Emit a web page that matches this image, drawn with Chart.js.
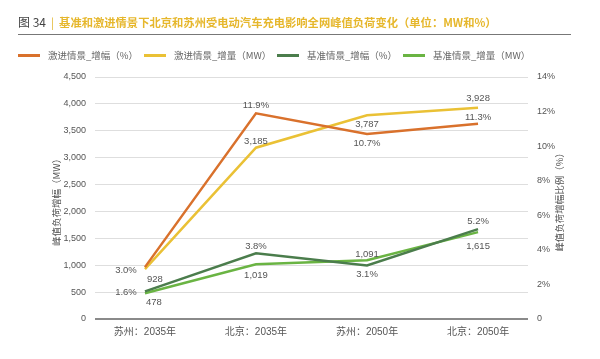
<!DOCTYPE html>
<html>
<head>
<meta charset="utf-8">
<script src="https://cdn.jsdelivr.net/npm/chart.js@4/dist/chart.umd.min.js"></script>
<style>
  html, body { margin:0; padding:0; background:#fff; }
  #wrap { position:relative; width:600px; height:359px; overflow:hidden; font-family:"Noto Sans CJK SC", "Noto Sans", sans-serif; }
  #chart { position:absolute; left:0; top:0; }
  #title { position:absolute; left:18px; top:13px; white-space:nowrap; font-size:11.3px; line-height:18px; }
  #title .num { color:#444; font-weight:normal; font-size:12px; }
  #title .bar { color:#e2b52a; margin:0 5px; }
  #title .txt { color:#e6b72c; font-weight:bold; }
  #rule { position:absolute; left:18px; top:34px; width:553px; height:0; border-top:1.5px solid #777; }
  .leg { position:absolute; top:48px; height:14px; white-space:nowrap; font-size:9.5px; color:#666; line-height:14px; }
  .leg .sw { position:absolute; left:0; top:6px; width:22px; height:3px; }
  .leg .lt { position:absolute; left:30px; top:0; }
</style>
</head>
<body>
<div id="wrap">
  <canvas id="chart" width="600" height="359"></canvas>
  <div id="title"><span class="num">图 34</span><span class="bar">|</span><span class="txt">基准和激进情景下北京和苏州受电动汽车充电影响全网峰值负荷变化（单位：MW和%）</span></div>
  <div id="rule"></div>
  <div id="legend"></div>
</div>
<script>
// ---- data ----
const categories = ["苏州：2035年", "北京：2035年", "苏州：2050年", "北京：2050年"];
const seriesNames = ["激进情景_增幅（%）", "激进情景_增量（MW）", "基准情景_增幅（%）", "基准情景_增量（MW）"];
const aggressivePct = [3.0, 11.9, 10.7, 11.3];
const aggressiveMW = [928, 3185, 3787, 3928];
const baselinePct = [1.6, 3.8, 3.1, 5.2];
const baselineMW = [478, 1019, 1091, 1615];
const leftTicks = [0, 500, 1000, 1500, 2000, 2500, 3000, 3500, 4000, 4500];
const rightTicks = [0, 2, 4, 6, 8, 10, 12, 14];

// ---- styles ----
const colors = ["#d9712c", "#eac135", "#4b7d4c", "#6ab443"];
const legendX = [18, 144, 277, 403];
// label offsets (dx, dy) relative to each point
const labelOffsets = [
  [[-19, 3], [0, -8], [0, 9], [0, -6]],
  [[10, 10], [0, -6], [0, 9], [0, -9]],
  [[-19, 1], [0, -7], [0, 9], [0, -8]],
  [[9, 9], [0, 11], [0, -6], [0, 14]]
];
const numFont = "'Liberation Sans Narrow', 'Liberation Sans', 'Noto Sans CJK SC', sans-serif";

// legend (HTML)
const legendEl = document.getElementById('legend');
seriesNames.forEach((n, i) => {
  const d = document.createElement('div');
  d.className = 'leg';
  d.style.left = legendX[i] + 'px';
  d.innerHTML = '<span class="sw" style="background:' + colors[i] + '"></span><span class="lt"></span>';
  d.querySelector('.lt').textContent = n;
  legendEl.appendChild(d);
});

function fmtThousands(v) { return v.toLocaleString('en-US'); }
function pts(arr) { return arr.map((v, i) => ({ x: i, y: v })); }

const datasets = [
  { label: seriesNames[0], data: pts(aggressivePct), yAxisID: 'y1', fmt: v => v.toFixed(1) + '%' },
  { label: seriesNames[1], data: pts(aggressiveMW), yAxisID: 'y', fmt: v => fmtThousands(v) },
  { label: seriesNames[2], data: pts(baselinePct), yAxisID: 'y1', fmt: v => v.toFixed(1) + '%' },
  { label: seriesNames[3], data: pts(baselineMW), yAxisID: 'y', fmt: v => fmtThousands(v) }
].map((d, i) => Object.assign(d, {
  borderColor: colors[i], backgroundColor: colors[i], borderWidth: 2.5,
  pointRadius: 0, tension: 0, fill: false
}));

const labelPlugin = {
  id: 'labels',
  afterDatasetsDraw(chart) {
    const ctx = chart.ctx;
    ctx.save();
    ctx.font = '9.5px ' + numFont;
    ctx.fillStyle = '#555';
    ctx.textAlign = 'center';
    ctx.textBaseline = 'middle';
    chart.data.datasets.forEach((ds, di) => {
      const meta = chart.getDatasetMeta(di);
      meta.data.forEach((el, i) => {
        const off = labelOffsets[di][i];
        ctx.fillText(ds.fmt(ds.data[i].y), el.x + off[0], el.y + off[1]);
      });
    });
    ctx.restore();
  }
};

const axisTitlePlugin = {
  id: 'axisTitles',
  afterDraw(chart) {
    const ctx = chart.ctx;
    const cy = 200;
    ctx.save();
    ctx.font = "9.5px 'Noto Sans CJK SC', sans-serif";
    ctx.fillStyle = '#555';
    ctx.textAlign = 'center';
    ctx.textBaseline = 'middle';
    [[56, '峰值负荷增幅（MW）'], [559, '峰值负荷增幅比例（%）']].forEach(([x, t]) => {
      ctx.save();
      ctx.translate(x, cy);
      ctx.rotate(-Math.PI / 2);
      ctx.fillText(t, 0, 0);
      ctx.restore();
    });
    ctx.restore();
  }
};

new Chart(document.getElementById('chart'), {
  type: 'line',
  data: { datasets },
  options: {
    responsive: false,
    animation: false,
    devicePixelRatio: 1,
    layout: { padding: { top: 77, bottom: 0, left: 0, right: 0 } },
    plugins: { legend: { display: false }, title: { display: false }, tooltip: { enabled: false } },
    scales: {
      x: {
        type: 'linear', min: -0.45, max: 3.45,
        afterBuildTicks: s => { s.ticks = categories.map((c, i) => ({ value: i })); },
        afterFit: s => { s.height = 40; },
        grid: { display: false, drawTicks: false },
        border: { display: false },
        ticks: {
          padding: 7, color: '#555', autoSkip: false, maxRotation: 0,
          font: { size: 10, family: numFont },
          callback: v => categories[v]
        }
      },
      y: {
        position: 'left', min: 0, max: 4500,
        afterBuildTicks: s => { s.ticks = leftTicks.map(v => ({ value: v })); },
        afterFit: s => { s.width = 95; },
        grid: {
          drawTicks: false,
          color: c => c.tick && c.tick.value === 0 ? '#8a8a8a' : '#dedede',
          lineWidth: c => c.tick && c.tick.value === 0 ? 2 : 1
        },
        border: { display: false },
        ticks: {
          padding: 9, color: '#555',
          font: { size: 9, family: numFont },
          callback: v => fmtThousands(v)
        }
      },
      y1: {
        position: 'right', min: 0, max: 14,
        afterBuildTicks: s => { s.ticks = rightTicks.map(v => ({ value: v })); },
        afterFit: s => { s.width = 72; },
        grid: { display: false, drawTicks: false },
        border: { display: false },
        ticks: {
          padding: 9, color: '#555',
          font: { size: 9, family: numFont },
          callback: v => v === 0 ? '0' : v + '%'
        }
      }
    }
  },
  plugins: [labelPlugin, axisTitlePlugin]
});
</script>
</body>
</html>
